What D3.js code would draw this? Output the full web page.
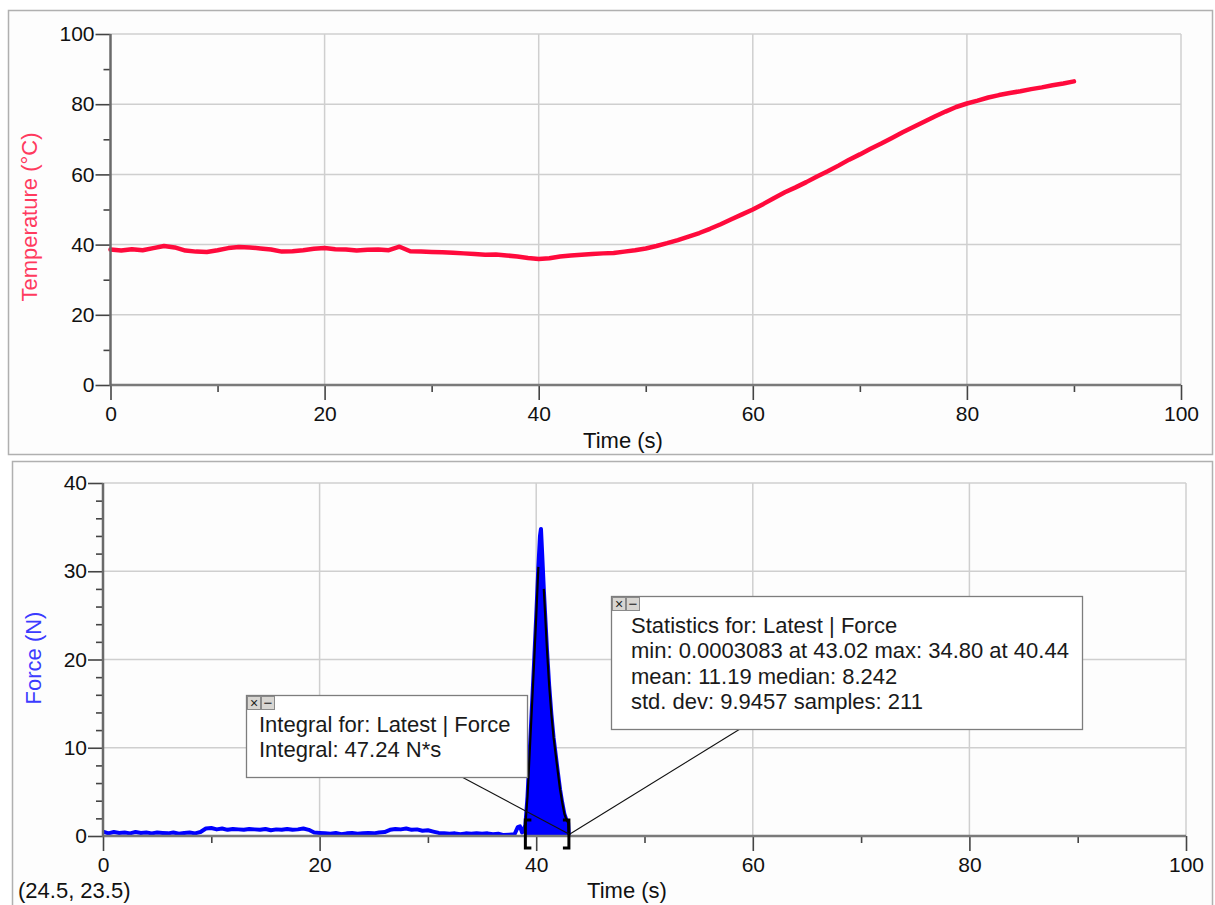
<!DOCTYPE html>
<html><head><meta charset="utf-8">
<script src="https://cdn.jsdelivr.net/npm/d3@7"></script>
<style>
body{margin:0;background:#fff}
svg{display:block;font-family:"Liberation Sans",Arial,sans-serif}
</style>
</head><body>
<svg id="c" width="1215" height="905"></svg>
<script>
// ---------------- data ----------------
const tempTime = [0,1,2,3,4,5,6,7,8,9,10,11,12,13,14,15,16,17,18,19,20,21,22,23,24,25,26,27,28,29,30,31,32,33,34,35,36,37,38,39,40,41,42,43,44,45,46,47,48,49,50,51,52,53,54,55,56,57,58,59,60,61,62,63,64,65,66,67,68,69,70,71,72,73,74,75,76,77,78,79,80,81,82,83,84,85,86,87,88,89,90];
const tempValue = [38.6,38.3,38.7,38.4,39.0,39.6,39.2,38.3,38.0,37.9,38.4,39.0,39.3,39.2,38.9,38.6,38.0,38.1,38.4,38.8,39.0,38.7,38.6,38.3,38.5,38.6,38.4,39.4,38.1,38.0,37.9,37.8,37.7,37.5,37.3,37.1,37.2,36.9,36.6,36.2,35.9,36.1,36.6,36.9,37.1,37.3,37.5,37.6,38.0,38.4,38.9,39.6,40.4,41.3,42.3,43.3,44.5,45.8,47.2,48.6,50.0,51.6,53.3,54.9,56.3,57.8,59.4,60.9,62.5,64.2,65.7,67.3,68.8,70.4,72.0,73.5,75.0,76.5,77.9,79.2,80.2,81.0,81.9,82.6,83.2,83.7,84.3,84.8,85.4,85.9,86.5];

const forceTime = [0,0.5,1,1.5,2,2.5,3,3.5,4,4.5,5,5.5,6,6.5,7,7.5,8,8.5,9,9.5,10,10.5,11,11.5,12,12.5,13,13.5,14,14.5,15,15.5,16,16.5,17,17.5,18,18.5,19,19.5,20,20.5,21,21.5,22,22.5,23,23.5,24,24.5,25,25.5,26,26.5,27,27.5,28,28.5,29,29.5,30,30.5,31,31.5,32,32.5,33,33.5,34,34.5,35,35.5,36,36.5,37,37.5,38,38.3,38.5,38.7,39.0,39.2,39.4,39.6,39.8,40.0,40.2,40.35,40.44,40.55,40.7,40.85,41.0,41.2,41.4,41.6,41.8,42.0,42.2,42.4,42.6,42.8,42.95,43.02];
const forceValue = [0.5,0.3,0.45,0.35,0.4,0.3,0.45,0.35,0.4,0.3,0.4,0.35,0.3,0.4,0.25,0.35,0.4,0.3,0.45,0.85,0.9,0.75,0.85,0.7,0.8,0.75,0.7,0.8,0.75,0.7,0.8,0.65,0.75,0.7,0.8,0.7,0.75,0.85,0.7,0.4,0.35,0.3,0.25,0.35,0.2,0.3,0.35,0.25,0.3,0.35,0.3,0.4,0.45,0.7,0.8,0.75,0.85,0.7,0.75,0.6,0.65,0.5,0.35,0.3,0.25,0.3,0.2,0.3,0.25,0.3,0.25,0.3,0.2,0.25,0.1,0.15,0.2,1.0,1.1,0.4,1.2,4.5,9.5,14.5,19.5,24.8,30.5,34.0,34.8,32.0,28.0,24.5,21.0,17.0,13.8,11.2,9.2,7.2,5.3,3.8,2.5,1.8,1.5,0.0003];

const xTicks = [0,20,40,60,80,100];
const xMinor = [10,30,50,70,90];
const tempTicks = [0,20,40,60,80,100];
const tempMinor = [10,30,50,70,90];
const forceTicks = [0,10,20,30,40];
const forceMinor = [2,4,6,8,12,14,16,18,22,24,26,28,32,34,36,38];
const integralRange = [39.0, 43.02];
const integralText = ["Integral for: Latest | Force", "Integral: 47.24 N*s"];
const statsText = ["Statistics for: Latest | Force",
  "min: 0.0003083 at 43.02 max: 34.80 at 40.44",
  "mean: 11.19 median: 8.242",
  "std. dev: 9.9457 samples: 211"];
const cursorText = "(24.5, 23.5)";

// ---------------- drawing ----------------
const svg = d3.select("#c");
svg.append("rect").attr("width",1215).attr("height",905).attr("fill","#fff");

// panel frames
svg.append("rect").attr("x",8.5).attr("y",10.5).attr("width",1204).attr("height",444)
  .attr("fill","#fdfdfd").attr("stroke","#b0b0b0").attr("stroke-width",1.5);
svg.append("rect").attr("x",12.5).attr("y",461.5).attr("width",1200).attr("height",470)
  .attr("fill","#fdfdfd").attr("stroke","#b0b0b0").attr("stroke-width",1.5);

function panel(o){
  const x = d3.scaleLinear().domain([0,100]).range([o.x0,o.x1]);
  const y = d3.scaleLinear().domain([0,o.ymax]).range([o.y0,o.y1]);
  const g = svg.append("g");
  g.append("g").selectAll("line").data(xTicks.filter(d=>d>0)).join("line")
    .attr("x1",d=>x(d)).attr("x2",d=>x(d)).attr("y1",y(0)).attr("y2",y(o.ymax))
    .attr("stroke","#cfcfcf").attr("stroke-width",1.5);
  g.append("g").selectAll("line").data(o.yTicks.filter(d=>d>0)).join("line")
    .attr("x1",x(0)).attr("x2",x(100)).attr("y1",d=>y(d)).attr("y2",d=>y(d))
    .attr("stroke","#cfcfcf").attr("stroke-width",1.5);
  return {x,y,g};
}

function axes(p,o){
  const {x,y,g} = p;
  const ax = g.append("g").attr("transform",`translate(0,${y(0)})`)
    .call(d3.axisBottom(x).tickValues(xTicks).tickSize(15).tickPadding(6).tickFormat(d3.format("d")));
  const axm = g.append("g").attr("transform",`translate(0,${y(0)})`)
    .call(d3.axisBottom(x).tickValues(xMinor).tickSize(7).tickFormat(""));
  const ay = g.append("g").attr("transform",`translate(${x(0)},0)`)
    .call(d3.axisLeft(y).tickValues(o.yTicks).tickSize(15).tickPadding(1).tickFormat(d3.format("d")));
  const aym = g.append("g").attr("transform",`translate(${x(0)},0)`)
    .call(d3.axisLeft(y).tickValues(o.yMinor).tickSize(7).tickFormat(""));
  [ax,axm,ay,aym].forEach(a=>{
    a.select(".domain").remove();
    a.selectAll("line").attr("stroke","#444").attr("stroke-width",1.6);
    a.selectAll("text").attr("font-size",21).attr("fill","#111")
      .attr("font-family","'Liberation Sans',Arial,sans-serif");
  });
  g.append("line").attr("x1",x(0)).attr("x2",x(100)).attr("y1",y(0)).attr("y2",y(0))
    .attr("stroke","#7a7a7a").attr("stroke-width",2.5);
  g.append("line").attr("x1",x(0)).attr("x2",x(0)).attr("y1",y(0)+1).attr("y2",y(o.ymax))
    .attr("stroke","#6a6a6a").attr("stroke-width",2.5);
}

// ---- top panel: temperature ----
const topO = {x0:110.5,x1:1181,y0:385,y1:34,ymax:100,yTicks:tempTicks,yMinor:tempMinor};
const topP = panel(topO);
const tempData = tempTime.map((t,i)=>[t,tempValue[i]]);
topP.g.append("path").datum(tempData)
  .attr("d",d3.line().x(d=>topP.x(d[0])).y(d=>topP.y(d[1])))
  .attr("fill","none").attr("stroke","#ff0a3c").attr("stroke-width",4.5)
  .attr("stroke-linejoin","round").attr("stroke-linecap","round");
axes(topP,topO);
svg.append("text").attr("x",623).attr("y",448).attr("text-anchor","middle")
  .attr("font-size",22).attr("fill","#111").text("Time (s)");
svg.append("text").attr("transform","translate(29,217) rotate(-90)")
  .attr("text-anchor","middle").attr("dominant-baseline","central")
  .attr("font-size",22).attr("fill","#ff3a5e").text("Temperature (°C)");

// ---- bottom panel: force ----
const botO = {x0:103,x1:1186,y0:836,y1:483,ymax:40,yTicks:forceTicks,yMinor:forceMinor};
const botP = panel(botO);
const forceData = forceTime.map((t,i)=>[t,forceValue[i]]);
const sel = forceData.filter(d=>d[0]>=integralRange[0] && d[0]<=integralRange[1]);
botP.g.append("path").datum(forceData)
  .attr("d",d3.line().x(d=>botP.x(d[0])).y(d=>botP.y(d[1])))
  .attr("fill","none").attr("stroke","#0000ff").attr("stroke-width",4)
  .attr("stroke-linejoin","round");
botP.g.append("path").datum(sel)
  .attr("d",d3.area().x(d=>botP.x(d[0])).y0(botP.y(0)).y1(d=>botP.y(d[1])))
  .attr("fill","#0000ff");
botP.g.append("path").datum(sel.filter(d=>d[0]<40.3))
  .attr("d",d3.line().x(d=>botP.x(d[0])).y(d=>botP.y(d[1])))
  .attr("fill","none").attr("stroke","#000").attr("stroke-width",2.2);
botP.g.append("path").datum(sel.filter(d=>d[0]>40.6))
  .attr("d",d3.line().x(d=>botP.x(d[0])).y(d=>botP.y(d[1])))
  .attr("fill","none").attr("stroke","#000").attr("stroke-width",2.2);
axes(botP,botO);

svg.append("text").attr("x",627).attr("y",898).attr("text-anchor","middle")
  .attr("font-size",22).attr("fill","#111").text("Time (s)");
svg.append("text").attr("x",18).attr("y",898)
  .attr("font-size",22).attr("fill","#111").text(cursorText);
svg.append("text").attr("transform","translate(33,658) rotate(-90)")
  .attr("text-anchor","middle").attr("dominant-baseline","central")
  .attr("font-size",22).attr("fill","#3b3bff").text("Force (N)");

// brackets
const bx0 = botP.x(integralRange[0]), bx1 = botP.x(integralRange[1]), by = botP.y(0);
svg.append("path").attr("d",`M${bx0+6},${by-16}H${bx0}V${by+12}H${bx0+6}`)
  .attr("fill","none").attr("stroke","#000").attr("stroke-width",3);
svg.append("path").attr("d",`M${bx1-6},${by-16}H${bx1}V${by+12}H${bx1-6}`)
  .attr("fill","none").attr("stroke","#000").attr("stroke-width",3);

// connector lines
svg.append("line").attr("x1",460).attr("y1",776).attr("x2",bx1).attr("y2",by-2)
  .attr("stroke","#111").attr("stroke-width",1.1);
svg.append("line").attr("x1",740).attr("y1",729).attr("x2",bx1+1).attr("y2",by-2)
  .attr("stroke","#111").attr("stroke-width",1.1);

function box(x0,y0,x1,y1,lines,tx,baselines){
  svg.append("rect").attr("x",x0+.5).attr("y",y0+.5).attr("width",x1-x0).attr("height",y1-y0)
    .attr("fill","#fff").attr("stroke","#7d7d7d").attr("stroke-width",1.3);
  [0,1].forEach(i=>{
    const bx = x0+1+i*14;
    svg.append("rect").attr("x",bx+.5).attr("y",y0+1.5).attr("width",13).attr("height",13)
      .attr("fill","#d8d6d2").attr("stroke","#8a8a8a").attr("stroke-width",1);
    svg.append("text").attr("x",bx+7).attr("y",y0+12.5).attr("text-anchor","middle")
      .attr("font-size",i===0?14:15).attr("fill","#222").text(i===0?"×":"−");
  });
  lines.forEach((t,i)=>{
    svg.append("text").attr("x",tx).attr("y",baselines[i])
      .attr("font-size",22).attr("fill","#1a1a1a").text(t);
  });
}
box(246,695,527,777,integralText,259,[732,757]);
box(611,596,1082,729,statsText,631,[633,658,684,709]);
</script>
</body></html>
